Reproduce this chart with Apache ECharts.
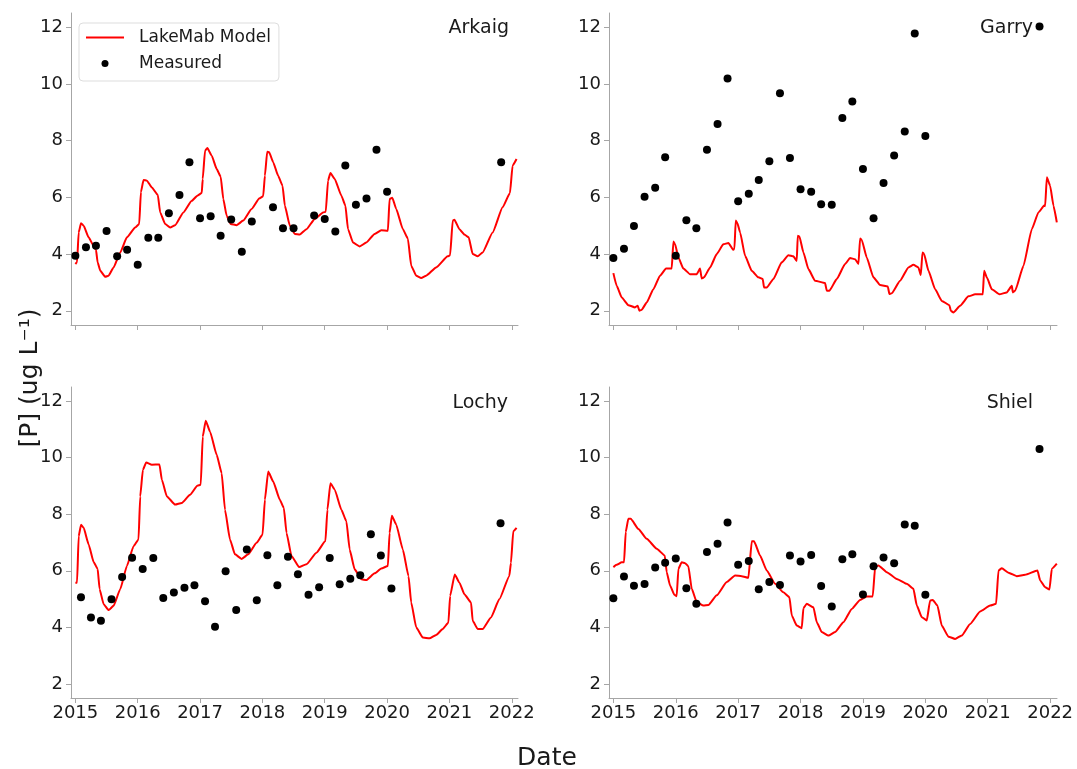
<!DOCTYPE html>
<html>
<head>
<meta charset="utf-8">
<script src="https://cdn.jsdelivr.net/npm/echarts@6/dist/echarts.min.js"></script>
<style>
html,body{margin:0;padding:0;background:#fff;}
#chart{width:1077px;height:769px;}
</style>
</head>
<body>
<div id="chart"></div>
<script>
// ---- DATA ----
const xTickYears = [2015, 2016, 2017, 2018, 2019, 2020, 2021, 2022];
const yTickValues = [2, 4, 6, 8, 10, 12];
const lakeNames = ['Arkaig', 'Garry', 'Lochy', 'Shiel'];

const arkaigModel = [
[2015.000,3.65],[2015.027,3.71],[2015.053,4.76],[2015.091,5.09],[2015.133,5.00],[2015.213,4.59],[2015.293,4.29],[2015.331,4.15],[2015.357,3.71],[2015.400,3.41],[2015.480,3.20],[2015.533,3.24],[2015.613,3.53],[2015.720,4.06],[2015.827,4.59],[2015.960,4.94],[2016.024,5.06],[2016.051,6.18],[2016.093,6.61],[2016.147,6.59],[2016.227,6.35],[2016.323,6.08],[2016.360,5.47],[2016.440,5.06],[2016.520,4.94],[2016.600,5.02],[2016.733,5.47],[2016.867,5.88],[2016.957,6.06],[2017.027,6.15],[2017.043,6.65],[2017.080,7.65],[2017.117,7.74],[2017.187,7.47],[2017.267,7.00],[2017.331,6.73],[2017.373,5.94],[2017.427,5.35],[2017.491,5.06],[2017.587,5.02],[2017.693,5.18],[2017.827,5.59],[2017.949,5.96],[2018.013,6.04],[2018.040,6.76],[2018.077,7.61],[2018.109,7.59],[2018.173,7.24],[2018.253,6.76],[2018.323,6.41],[2018.360,5.71],[2018.440,5.00],[2018.520,4.71],[2018.600,4.69],[2018.707,4.88],[2018.840,5.24],[2018.973,5.47],[2019.016,5.49],[2019.053,6.59],[2019.091,6.86],[2019.160,6.65],[2019.267,6.06],[2019.331,5.71],[2019.373,4.88],[2019.453,4.41],[2019.560,4.27],[2019.667,4.41],[2019.800,4.71],[2019.907,4.84],[2020.013,4.82],[2020.040,5.94],[2020.083,5.99],[2020.147,5.59],[2020.253,4.88],[2020.333,4.55],[2020.387,3.59],[2020.467,3.24],[2020.547,3.16],[2020.627,3.24],[2020.787,3.53],[2020.973,3.92],[2021.011,3.96],[2021.053,5.18],[2021.080,5.21],[2021.160,4.88],[2021.240,4.69],[2021.309,4.59],[2021.373,4.00],[2021.453,3.92],[2021.533,4.06],[2021.693,4.76],[2021.853,5.65],[2021.971,6.15],[2022.013,7.12],[2022.077,7.35]
];
const arkaigMeasured = [
[2015.00,3.94],[2015.17,4.24],[2015.33,4.29],[2015.50,4.81],[2015.67,3.92],[2015.83,4.15],[2016.00,3.62],[2016.17,4.58],[2016.33,4.58],[2016.50,5.44],[2016.67,6.08],[2016.83,7.24],[2017.00,5.26],[2017.17,5.33],[2017.33,4.65],[2017.50,5.22],[2017.67,4.08],[2017.83,5.15],[2018.17,5.65],[2018.33,4.91],[2018.50,4.91],[2018.83,5.36],[2019.00,5.24],[2019.17,4.80],[2019.33,7.12],[2019.50,5.74],[2019.67,5.96],[2019.83,7.68],[2020.00,6.20],[2021.83,7.24]
];

const garryModel = [
[2015.000,3.33],[2015.053,2.88],[2015.134,2.47],[2015.240,2.20],[2015.347,2.12],[2015.390,2.18],[2015.417,2.00],[2015.454,2.04],[2015.534,2.29],[2015.641,2.76],[2015.748,3.24],[2015.844,3.49],[2015.935,3.49],[2015.962,4.44],[2015.989,4.35],[2016.042,3.88],[2016.122,3.49],[2016.229,3.29],[2016.336,3.29],[2016.389,3.49],[2016.416,3.14],[2016.453,3.18],[2016.550,3.53],[2016.657,4.00],[2016.763,4.35],[2016.844,4.39],[2016.924,4.15],[2016.940,4.18],[2016.961,5.18],[2016.988,5.09],[2017.031,4.76],[2017.111,3.94],[2017.218,3.41],[2017.324,3.18],[2017.394,3.12],[2017.415,2.82],[2017.458,2.82],[2017.565,3.12],[2017.698,3.71],[2017.805,3.96],[2017.886,3.92],[2017.939,3.76],[2017.955,4.65],[2017.982,4.62],[2018.046,4.06],[2018.126,3.47],[2018.233,3.06],[2018.393,2.98],[2018.420,2.71],[2018.463,2.71],[2018.580,3.12],[2018.714,3.65],[2018.794,3.86],[2018.874,3.82],[2018.928,3.65],[2018.954,4.55],[2018.981,4.50],[2019.061,3.88],[2019.168,3.18],[2019.275,2.91],[2019.398,2.86],[2019.424,2.59],[2019.462,2.62],[2019.595,3.06],[2019.729,3.53],[2019.809,3.62],[2019.889,3.53],[2019.927,3.26],[2019.954,4.06],[2019.980,4.00],[2020.050,3.41],[2020.157,2.76],[2020.263,2.35],[2020.386,2.20],[2020.408,2.00],[2020.450,1.94],[2020.557,2.18],[2020.691,2.51],[2020.798,2.58],[2020.921,2.58],[2020.942,3.41],[2020.985,3.18],[2021.065,2.76],[2021.188,2.58],[2021.305,2.65],[2021.386,2.88],[2021.402,2.65],[2021.439,2.71],[2021.573,3.59],[2021.706,4.88],[2021.813,5.47],[2021.904,5.71],[2021.920,5.69],[2021.947,6.71],[2022.000,6.41],[2022.053,5.71],[2022.107,5.12]
];
const garryMeasured = [
[2015.00,3.86],[2015.17,4.19],[2015.33,4.99],[2015.50,6.02],[2015.67,6.34],[2015.83,7.41],[2016.00,3.94],[2016.17,5.19],[2016.33,4.91],[2016.50,7.68],[2016.67,8.59],[2016.83,10.19],[2017.00,5.86],[2017.17,6.13],[2017.33,6.61],[2017.50,7.27],[2017.67,9.67],[2017.83,7.39],[2018.00,6.29],[2018.17,6.20],[2018.33,5.76],[2018.50,5.74],[2018.67,8.80],[2018.83,9.38],[2019.00,7.00],[2019.17,5.26],[2019.33,6.51],[2019.50,7.48],[2019.67,8.32],[2019.83,11.78],[2020.00,8.16],[2021.83,12.02]
];

const lochyModel = [
[2015.000,5.58],[2015.027,5.58],[2015.053,7.22],[2015.091,7.63],[2015.133,7.52],[2015.213,6.93],[2015.293,6.31],[2015.357,6.07],[2015.389,5.35],[2015.453,4.82],[2015.533,4.61],[2015.613,4.76],[2015.720,5.35],[2015.827,6.17],[2015.933,6.87],[2016.013,7.11],[2016.040,8.63],[2016.083,9.57],[2016.136,9.83],[2016.227,9.75],[2016.349,9.76],[2016.387,9.22],[2016.467,8.63],[2016.600,8.34],[2016.707,8.40],[2016.840,8.69],[2016.957,9.01],[2017.011,9.04],[2017.043,10.74],[2017.091,11.31],[2017.160,10.92],[2017.267,10.10],[2017.347,9.45],[2017.400,8.16],[2017.480,7.11],[2017.560,6.58],[2017.667,6.42],[2017.773,6.58],[2017.907,6.99],[2018.003,7.28],[2018.040,8.51],[2018.093,9.51],[2018.173,9.16],[2018.280,8.51],[2018.344,8.22],[2018.387,7.34],[2018.467,6.52],[2018.589,6.13],[2018.707,6.23],[2018.867,6.64],[2019.011,7.05],[2019.043,8.16],[2019.091,9.10],[2019.160,8.87],[2019.267,8.16],[2019.347,7.75],[2019.400,6.75],[2019.480,6.05],[2019.587,5.70],[2019.667,5.67],[2019.800,5.91],[2019.907,6.08],[2020.013,6.17],[2020.040,7.34],[2020.077,7.95],[2020.147,7.63],[2020.253,6.75],[2020.344,5.81],[2020.387,4.88],[2020.467,4.00],[2020.573,3.64],[2020.680,3.61],[2020.787,3.73],[2020.893,3.94],[2020.984,4.17],[2021.011,5.11],[2021.085,5.87],[2021.160,5.58],[2021.240,5.17],[2021.347,4.88],[2021.373,4.23],[2021.453,3.94],[2021.533,3.94],[2021.667,4.35],[2021.800,4.99],[2021.960,5.81],[2021.987,6.28],[2022.024,7.40],[2022.077,7.52]
];
const lochyMeasured = [
[2015.09,5.06],[2015.25,4.35],[2015.41,4.23],[2015.58,4.99],[2015.75,5.78],[2015.91,6.46],[2016.08,6.06],[2016.25,6.45],[2016.41,5.04],[2016.58,5.23],[2016.75,5.40],[2016.91,5.49],[2017.08,4.92],[2017.24,4.02],[2017.41,5.98],[2017.58,4.61],[2017.75,6.75],[2017.91,4.96],[2018.08,6.55],[2018.24,5.49],[2018.41,6.50],[2018.57,5.88],[2018.74,5.15],[2018.91,5.42],[2019.08,6.45],[2019.24,5.52],[2019.41,5.72],[2019.57,5.84],[2019.74,7.29],[2019.90,6.54],[2020.07,5.37],[2021.82,7.68]
];

const shielModel = [
[2015.000,6.13],[2015.053,6.21],[2015.134,6.30],[2015.171,6.30],[2015.198,7.37],[2015.240,7.84],[2015.278,7.84],[2015.401,7.48],[2015.534,7.13],[2015.695,6.78],[2015.823,6.54],[2015.855,5.95],[2015.908,5.48],[2015.978,5.15],[2016.015,5.10],[2016.042,6.07],[2016.095,6.30],[2016.149,6.27],[2016.202,6.16],[2016.256,5.36],[2016.336,4.89],[2016.443,4.77],[2016.523,4.79],[2016.657,5.13],[2016.817,5.60],[2016.950,5.83],[2017.057,5.81],[2017.164,5.75],[2017.218,7.04],[2017.255,7.04],[2017.351,6.54],[2017.458,6.01],[2017.592,5.54],[2017.725,5.24],[2017.821,5.07],[2017.859,4.42],[2017.939,4.06],[2018.019,3.97],[2018.046,4.68],[2018.099,4.83],[2018.206,4.71],[2018.260,4.18],[2018.340,3.83],[2018.447,3.71],[2018.553,3.83],[2018.687,4.18],[2018.821,4.65],[2018.954,4.97],[2019.061,5.09],[2019.157,5.09],[2019.195,6.13],[2019.248,6.19],[2019.382,5.95],[2019.542,5.71],[2019.702,5.54],[2019.809,5.36],[2019.863,4.77],[2019.943,4.36],[2020.023,4.24],[2020.076,4.95],[2020.119,4.97],[2020.194,4.77],[2020.263,4.06],[2020.370,3.67],[2020.477,3.59],[2020.584,3.71],[2020.718,4.12],[2020.878,4.56],[2021.038,4.77],[2021.134,4.83],[2021.172,6.01],[2021.225,6.09],[2021.332,5.93],[2021.466,5.81],[2021.599,5.86],[2021.797,6.01],[2021.840,5.66],[2021.920,5.42],[2021.989,5.34],[2022.027,6.07],[2022.107,6.25]
];
const shielMeasured = [
[2015.00,5.03],[2015.17,5.80],[2015.33,5.47],[2015.50,5.53],[2015.67,6.12],[2015.83,6.28],[2016.00,6.43],[2016.17,5.38],[2016.33,4.83],[2016.50,6.66],[2016.67,6.96],[2016.83,7.71],[2017.00,6.21],[2017.17,6.35],[2017.33,5.35],[2017.50,5.60],[2017.67,5.50],[2017.83,6.54],[2018.00,6.33],[2018.17,6.56],[2018.33,5.46],[2018.50,4.74],[2018.67,6.41],[2018.83,6.58],[2019.00,5.16],[2019.17,6.16],[2019.33,6.47],[2019.50,6.27],[2019.67,7.64],[2019.83,7.59],[2020.00,5.15],[2021.83,10.31]
];

const modelSets = [arkaigModel, garryModel, lochyModel, shielModel];
const measuredSets = [arkaigMeasured, garryMeasured, lochyMeasured, shielMeasured];

// ---- LAYOUT ----
const FONT = 'DejaVu Sans';
const AXIS_GREY = '#a6a6a6';
const panels = [
  {left: 71, top: 13, width: 447, height: 312, xmin: 2014.93, xmax: 2022.10, showX: false, tx: 509, ty: 28},
  {left: 609, top: 13, width: 448, height: 312, xmin: 2014.93, xmax: 2022.11, showX: false, tx: 1033, ty: 28},
  {left: 71, top: 387, width: 447, height: 311, xmin: 2014.93, xmax: 2022.10, showX: true, tx: 508, ty: 403},
  {left: 609, top: 387, width: 448, height: 311, xmin: 2014.93, xmax: 2022.11, showX: true, tx: 1033, ty: 403}
];

const grid = [], xAxis = [], yAxis = [], series = [], graphic = [];
panels.forEach((p, i) => {
  grid.push({left: p.left, top: p.top, width: p.width, height: p.height, containLabel: false});
  xAxis.push({
    type: 'value', gridIndex: i, min: p.xmin, max: p.xmax,
    axisLine: {show: true, lineStyle: {color: AXIS_GREY, width: 1}},
    axisTick: {show: true, length: 5, lineStyle: {color: AXIS_GREY}, customValues: xTickYears},
    axisLabel: {show: p.showX, customValues: xTickYears, formatter: v => String(Math.round(v)),
      color: '#1a1a1a', fontFamily: FONT, fontSize: 18, margin: 6},
    splitLine: {show: false}
  });
  yAxis.push({
    type: 'value', gridIndex: i, min: 1.5, max: 12.5,
    axisLine: {show: true, lineStyle: {color: AXIS_GREY, width: 1}},
    axisTick: {show: true, length: 5, lineStyle: {color: AXIS_GREY}, customValues: yTickValues},
    axisLabel: {show: true, customValues: yTickValues, color: '#1a1a1a', fontFamily: FONT, fontSize: 18, margin: 8},
    splitLine: {show: false}
  });
  series.push({
    name: 'LakeMab Model', type: 'line', xAxisIndex: i, yAxisIndex: i,
    data: modelSets[i], symbol: 'none', showSymbol: false, smooth: 0.15, smoothMonotone: 'x',
    lineStyle: {color: '#ff0000', width: 2}, itemStyle: {color: '#ff0000'}, z: 2
  });
  series.push({
    name: 'Measured', type: 'scatter', xAxisIndex: i, yAxisIndex: i,
    data: measuredSets[i], symbol: 'circle', symbolSize: 8,
    itemStyle: {color: '#000', opacity: 1}, z: 3
  });
  graphic.push({
    type: 'text', x: p.tx, y: p.ty,
    style: {text: lakeNames[i], fill: '#1a1a1a', font: '19px "DejaVu Sans"', align: 'right', verticalAlign: 'middle'}
  });
});

graphic.push({
  type: 'text', x: 30, y: 378, rotation: Math.PI / 2,
  style: {text: '[P] (ug L\u207B\u00B9)', fill: '#1a1a1a', font: '25px "DejaVu Sans"', align: 'center', verticalAlign: 'middle'}
});
graphic.push({
  type: 'text', x: 547, y: 758,
  style: {text: 'Date', fill: '#1a1a1a', font: '25px "DejaVu Sans"', align: 'center', verticalAlign: 'middle'}
});

const chart = echarts.init(document.getElementById('chart'), null, {renderer: 'canvas'});
chart.setOption({
  animation: false,
  backgroundColor: '#fff',
  grid, xAxis, yAxis, series, graphic,
  legend: {
    show: true, orient: 'vertical', left: 79, top: 23,
    data: [
      {name: 'LakeMab Model', itemStyle: {color: 'rgba(0,0,0,0)', borderWidth: 0, opacity: 0}, lineStyle: {color: '#ff0000', width: 2, opacity: 1}},
      {name: 'Measured', icon: 'circle', itemStyle: {color: '#000', opacity: 1}}
    ],
    itemWidth: 38, itemHeight: 7, itemGap: 7,
    padding: [5, 8, 8, 6],
    borderColor: '#dddddd', borderWidth: 1, borderRadius: 4, backgroundColor: '#fff',
    textStyle: {fontFamily: FONT, fontSize: 17, color: '#1a1a1a', lineHeight: 19, padding: [0, 0, 0, 10]}
  }
});
</script>
</body>
</html>
